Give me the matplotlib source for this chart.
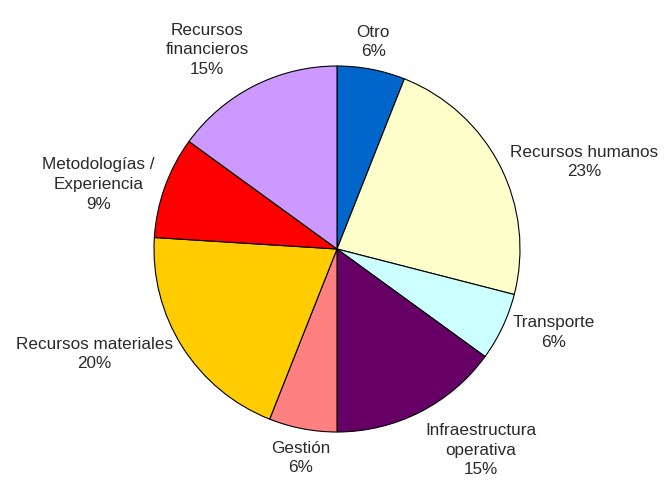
import numpy as np
import matplotlib
matplotlib.use("Agg")
import matplotlib.pyplot as plt

plt.rcParams['font.family'] = ['Liberation Sans', 'DejaVu Sans']

labels = ['Otro', 'Recursos humanos', 'Transporte', 'Infraestructura\noperativa',
          'Gestión', 'Recursos materiales', 'Metodologías /\nExperiencia',
          'Recursos\nfinancieros']
values = [6, 23, 6, 15, 6, 20, 9, 15]
colors = ['#0066CC', '#FFFFCC', '#CCFFFF', '#660066',
          '#FF8080', '#FFCC00', '#FF0000', '#CC99FF']

fig = plt.figure(figsize=(6.65, 4.89), dpi=100)
ax = fig.add_axes([0, 0, 1, 1])

wedges, _ = ax.pie(values, colors=colors, startangle=90, counterclock=False,
                   wedgeprops=dict(edgecolor='black', linewidth=0.8))

# labels outside, anchored like excel does it
total = sum(values)
for w, lab, v in zip(wedges, labels, values):
    ang = np.deg2rad((w.theta1 + w.theta2) / 2)
    x, y = np.cos(ang), np.sin(ang)
    ha = 'left' if x > 0.3 else ('right' if x < -0.3 else 'center')
    va = 'bottom' if y > 0.7 else ('top' if y < -0.7 else 'center')
    ax.text(1.06 * x, 1.06 * y, f"{lab}\n{round(100 * v / total)}%",
            ha=ha, va=va, multialignment='center', fontsize=12.3,
            color='#2a2a2a', linespacing=1.4)

ax.set_aspect('equal')
ax.set_xlim(-337 / 183, (665 - 337) / 183)
ax.set_ylim(-(489 - 250) / 183, 250 / 183)
ax.axis('off')

fig.savefig('out.png', dpi=100, facecolor='white')
